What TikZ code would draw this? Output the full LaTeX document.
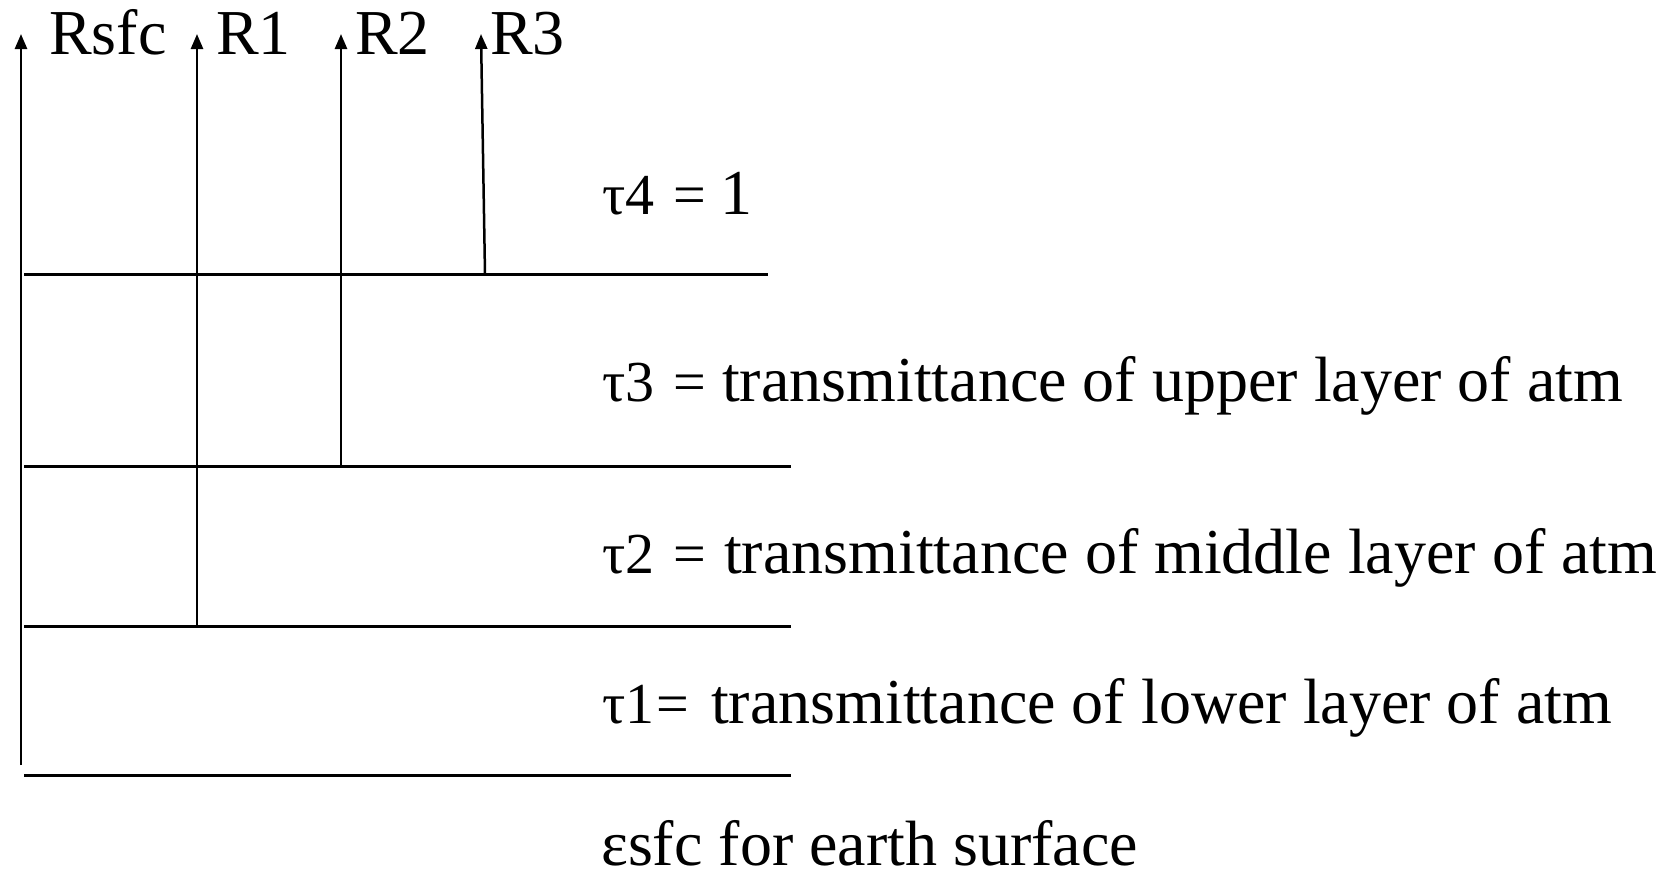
\documentclass[tikz,border=0pt]{standalone}
\usepackage{fontspec}
\setmainfont{Liberation Serif}
\usetikzlibrary{arrows.meta}
\newcommand{\bigtxt}{\fontsize{64}{70}\selectfont}
\newcommand{\pfx}{\fontsize{58}{64}\selectfont}
\tikzset{
  layer/.style={line width=3pt},
  ray/.style={line width=2.5pt,-{Triangle[length=15pt,width=12pt]}},
  lbl/.style={anchor=base west,inner sep=0pt,font=\bigtxt},
}
\begin{document}
\begin{tikzpicture}[x=1pt,y=-1pt]
\useasboundingbox (0,0) rectangle (1671,873);
% layer boundaries
\coordinate (l4a) at (24,274);  \coordinate (l4b) at (768,274);
\coordinate (l3a) at (24,466);  \coordinate (l3b) at (791,466);
\coordinate (l2a) at (24,626);  \coordinate (l2b) at (791,626);
\coordinate (l1a) at (24,775);  \coordinate (l1b) at (791,775);
\draw[layer] (l4a) -- (l4b);
\draw[layer] (l3a) -- (l3b);
\draw[layer] (l2a) -- (l2b);
\draw[layer] (l1a) -- (l1b);
% rays
\coordinate (s0) at (21,765);  \coordinate (t0) at (21,34);
\coordinate (s1) at (197,626); \coordinate (t1) at (197,34);
\coordinate (s2) at (341,466); \coordinate (t2) at (341,34);
\coordinate (s3) at (485,274); \coordinate (t3) at (481,34);
\draw[ray] (s0) -- (t0);
\draw[ray] (s1) -- (t1);
\draw[ray] (s2) -- (t2);
\draw[ray] (s3) -- (t3);
% ray labels
\node[lbl] (rsfc) at (49,54) {Rsfc};
\node[lbl] (r1) at (216,54) {R1};
\node[lbl] (r2) at (355,54) {R2};
\node[lbl] (r3) at (490,54) {R3};
% layer labels
\node[lbl] (tau4) at (602,214) {\makebox[118pt][l]{\pfx τ4\hskip 19pt=}1};
\node[lbl] (tau3) at (602,401) {\makebox[120pt][l]{\pfx τ3\hskip 19pt=}transmittance of upper layer of atm};
\node[lbl] (tau2) at (602,573) {\makebox[122pt][l]{\pfx τ2\hskip 19pt=}transmittance of middle layer of atm};
\node[lbl] (tau1) at (602,723) {\makebox[109pt][l]{\pfx τ1\hskip 2pt=}transmittance of lower layer of atm};
\node[lbl] (eps) at (601,865) {εsfc for earth surface};
\end{tikzpicture}
\end{document}
